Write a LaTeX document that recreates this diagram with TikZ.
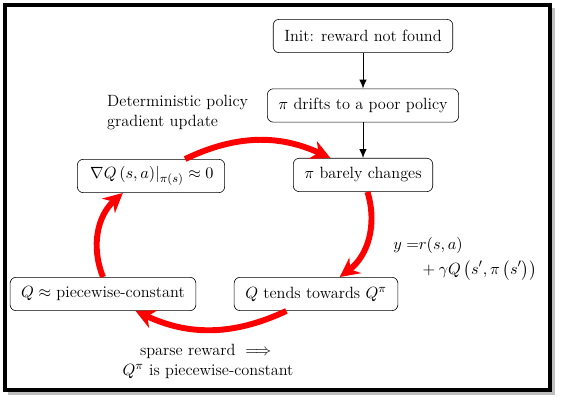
\documentclass[tikz,border=0pt]{standalone}
\usepackage{amsmath, amssymb}
\usepackage{tikz}
\usetikzlibrary{arrows.meta, positioning}

\begin{document}
\begin{tikzpicture}[
        x=0.675pt, y=0.675pt,
        node distance=24pt and 44pt,
        every node/.style={font=\fontsize{11}{13.5}\selectfont},
        box/.style={rectangle, draw, rounded corners=4pt, inner xsep=7.5pt, minimum height=22.5pt},
        arrow/.style={-{Latex[length=6pt,width=5pt]}, semithick},
        redarrow/.style={-{Stealth[length=13pt,width=13pt]}, red, line width=4pt}
    ]

    % Frame
    \useasboundingbox (0,0) rectangle (561,-401);
    \fill [black!25] (8,-8) rectangle (555,-395);
    \draw [line width=2.6pt, fill=white] (5,-5) rectangle (550,-390);

    % Top chain
    \node (init) [box] at (363,-36) {Init: reward not found};
    \node (drift) [box, below=of init] {$\pi$ drifts to a poor policy};
    \node (barely) [box, below=of drift] {$\pi$ barely changes};

    % Cycle
    \node (grad) [box] at (151,-176) {$\left.\nabla Q\left(s,a\right)\right|_{\pi(s)} \approx 0$};
    \node (qtends) [box] at (316,-294) {$Q$ tends towards $Q^{\pi}$};
    \node (qconst) [box] at (103,-294) {$Q \approx$ piecewise-constant};

    % Labels
    \node (dpg) [align=left, anchor=west] at (102,-113) {Deterministic policy\\ gradient update};
    \node (target) at (465,-258) {$\begin{aligned} y =& r(s,a)\\ & + \gamma Q\left(s', \pi\left(s'\right)\right)\end{aligned}$};
    \node (sparse) [align=center] at (208,-361) {sparse reward $\implies$\\ $Q^{\pi}$ is piecewise-constant};

    % Arrows
    \draw [arrow] (init) -- (drift);
    \draw [arrow] (drift) -- (barely);

    \draw [redarrow] ([xshift=23pt]grad.north) to[bend left=25] ([xshift=-22pt]barely.north);
    \draw [redarrow] ([xshift=3pt]barely.south) to[bend left=35] ([xshift=16pt]qtends.north);
    \draw [redarrow] ([xshift=-20pt]qtends.south) to[bend left=25] ([xshift=22pt]qconst.south);
    \draw [redarrow] (qconst.north) to[bend left=35] ([xshift=-19pt]grad.south);

\end{tikzpicture}
\end{document}
